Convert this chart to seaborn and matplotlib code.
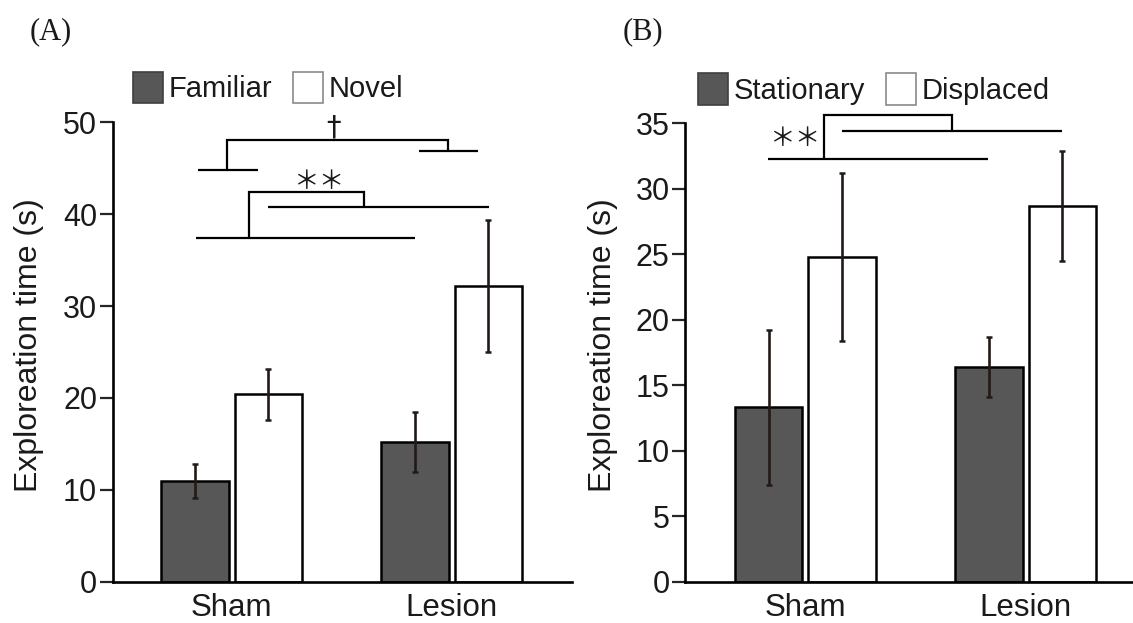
import matplotlib
matplotlib.use("Agg")
import matplotlib.pyplot as plt
import pandas as pd
import seaborn as sns
from matplotlib.patches import Patch

# ---- data -------------------------------------------------------------
groups = ["Sham", "Lesion"]

# (A) novel object recognition
objects_a = ["Familiar", "Novel"]
mean_a_familiar = [11.0, 15.2]
mean_a_novel = [20.4, 32.2]
sem_a_familiar = [1.85, 3.25]
sem_a_novel = [2.75, 7.2]

# (B) object location
objects_b = ["Stationary", "Displaced"]
mean_b_stationary = [13.3, 16.4]
mean_b_displaced = [24.8, 28.7]
sem_b_stationary = [5.95, 2.3]
sem_b_displaced = [6.4, 4.2]

yticks_a = [0, 10, 20, 30, 40, 50]
yticks_b = [0, 5, 10, 15, 20, 25, 30, 35]
ylabel = "Exploreation time (s)"

# ---- style ------------------------------------------------------------
sns.set_style("ticks")
plt.rcParams["font.family"] = ["Liberation Sans", "DejaVu Sans"]
TXT = "#1a1a1a"
DARK = "#575757"
ERR = "#221a18"

W, H = 1133, 623
fig = plt.figure(figsize=(W / 100, H / 100), dpi=100)


def px_axes(left, right, top, bottom):
    return fig.add_axes([left / W, 1 - bottom / H, (right - left) / W, (bottom - top) / H])


ax_a = px_axes(112.5, 571.7, 122.4, 581.7)
ax_b = px_axes(685.0, 1133.0, 123.2, 581.7)


def draw_panel(ax, names, means, sems, yticks, xlim):
    df = pd.DataFrame({
        "group": groups * 2,
        "object": [names[0]] * 2 + [names[1]] * 2,
        "time": list(means[0]) + list(means[1]),
    })
    sns.barplot(data=df, x="group", y="time", hue="object", order=groups,
                hue_order=names, palette={names[0]: DARK, names[1]: "white"},
                edgecolor="black", linewidth=1.8, width=0.667, gap=0.08,
                errorbar=None, legend=False, ax=ax)
    for cont, se in zip(ax.containers, sems):
        xs = [b.get_x() + b.get_width() / 2 for b in cont]
        ys = [b.get_height() for b in cont]
        ax.errorbar(xs, ys, yerr=se, fmt="none", ecolor=ERR, elinewidth=1.9,
                    capsize=2.4, capthick=1.8, zorder=5)
    ax.set_xlim(*xlim)
    ax.set_ylim(yticks[0], yticks[-1])
    ax.set_yticks(yticks)
    ax.set_xlabel("")
    ax.set_ylabel(ylabel, fontsize=23, color=TXT)
    ax.yaxis.set_label_coords(-0.15, 0.515)
    sns.despine(ax=ax)
    for s in ("left", "bottom"):
        ax.spines[s].set_linewidth(1.9)
        ax.spines[s].set_color("black")
    ax.tick_params(axis="y", direction="out", length=9.5, width=1.6,
                   pad=1.5, labelsize=22, labelcolor=TXT)
    ax.tick_params(axis="x", length=0, pad=8, labelsize=22.5, labelcolor=TXT)
    ax.set_facecolor("none")


draw_panel(ax_a, objects_a, [mean_a_familiar, mean_a_novel],
           [sem_a_familiar, sem_a_novel], yticks_a, (-0.542, 1.545))
draw_panel(ax_b, objects_b, [mean_b_stationary, mean_b_displaced],
           [sem_b_stationary, sem_b_displaced], yticks_b, (-0.546, 1.487))

# ---- significance brackets (data coordinates) -------------------------
brackets_a = [
    [(-0.164, 37.45), (0.833, 37.45)],
    [(0.163, 40.82), (1.171, 40.82)],
    [(0.078, 37.45), (0.078, 42.39), (0.601, 42.39), (0.601, 40.82)],
    [(-0.153, 44.81), (0.118, 44.81)],
    [(0.851, 46.87), (1.118, 46.87)],
    [(-0.023, 44.81), (-0.023, 48.08), (0.984, 48.08), (0.984, 46.87)],
]
brackets_b = [
    [(-0.170, 32.27), (0.828, 32.27)],
    [(0.165, 34.41), (1.163, 34.41)],
    [(0.084, 32.27), (0.084, 35.63), (0.664, 35.63), (0.664, 34.41)],
]

for ax, lines in ((ax_a, brackets_a), (ax_b, brackets_b)):
    for pts in lines:
        xs, ys = zip(*pts)
        ax.plot(xs, ys, color="black", lw=1.6, clip_on=False,
                solid_joinstyle="miter", solid_capstyle="butt")

star_font = ["Noto Sans CJK JP", "DejaVu Sans"]
ax_a.text(0.397, 43.54, "＊＊", ha="center", va="center", fontsize=18.5,
          family=star_font, color=TXT, clip_on=False)
ax_a.text(0.462, 49.4, "†", ha="center", va="center", fontsize=21,
          family=["DejaVu Sans"], color=TXT, clip_on=False)
ax_b.text(-0.047, 33.8, "＊＊", ha="center", va="center", fontsize=18.5,
          family=star_font, color=TXT, clip_on=False)

# ---- legends ----------------------------------------------------------
def panel_legend(names, x_left, y_center):
    handles = [Patch(facecolor=DARK, edgecolor="#404040", linewidth=1.2),
               Patch(facecolor="white", edgecolor="#8a8a8a", linewidth=1.2)]
    fig.legend(handles, names, loc="center left",
               bbox_to_anchor=(x_left / W, 1 - y_center / H),
               frameon=False, ncol=2, fontsize=21, handlelength=1.03,
               handleheight=1.27, handletextpad=0.2, columnspacing=0.7,
               borderpad=0, borderaxespad=0, labelcolor=TXT)


panel_legend(objects_a, 133, 87.5)
panel_legend(objects_b, 698, 89)

# ---- panel letters ----------------------------------------------------
for x, letter in ((50.5, "(A)"), (642.5, "(B)")):
    fig.text(x / W, 1 - 31.5 / H, letter, ha="center", va="center",
             fontsize=22, family=["Liberation Serif"], color=TXT)

fig.savefig("out.png", dpi=100, facecolor="white")
